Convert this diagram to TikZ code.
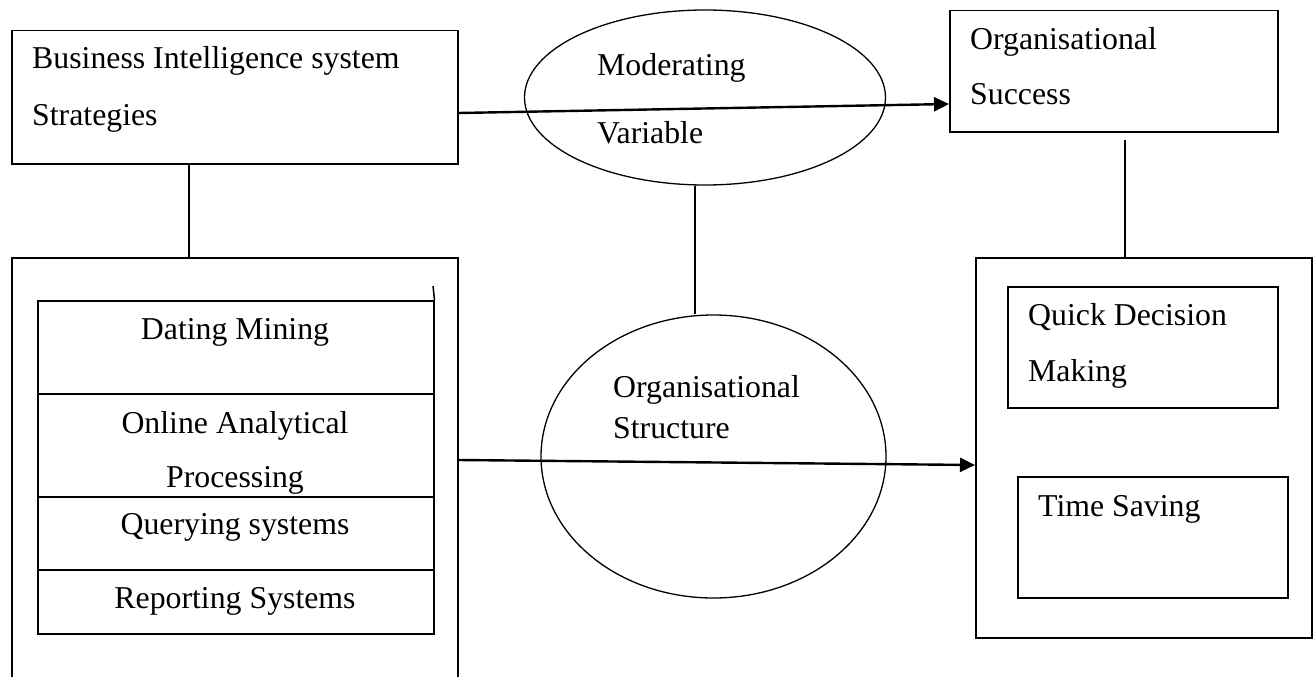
\documentclass[tikz,border=0pt]{standalone}
\usepackage{fontspec}
\setmainfont{Liberation Serif}
\usetikzlibrary{shapes.geometric,arrows.meta}
\begin{document}
\begin{tikzpicture}[x=1pt,y=-1pt,
  box/.style={draw, line width=1.5pt, inner sep=0pt, anchor=north west},
  oval/.style={draw, ellipse, line width=1.3pt, inner sep=0pt},
  txt/.style={inner sep=0pt, anchor=base west, font=\fontsize{31.8}{38}\selectfont},
  ctxt/.style={txt, anchor=base},
  link/.style={line width=1.3pt},
  arr/.style={line width=2.4pt, -{Triangle[length=15pt,width=14pt]}}]
\clip (0,0) rectangle (1314,677);
\fill[white] (0,0) rectangle (1314,677);
% boxes
\node[box, minimum width=446pt, minimum height=133pt] (bi) at (11,30) {};
\node[box, minimum width=446pt, minimum height=440pt] (left) at (11,257) {};
\node[box, minimum width=396pt, minimum height=93pt] (dm) at (37,300) {};
\node[box, minimum width=396pt, minimum height=103pt] (olap) at (37,393) {};
\node[box, minimum width=396pt, minimum height=73pt] (qs) at (37,496) {};
\node[box, minimum width=396pt, minimum height=64pt] (rs) at (37,569) {};
\coordinate (stacktop) at (433,286);
\draw[line width=1.5pt] (dm.north east) -- (stacktop);
\node[box, minimum width=328pt, minimum height=121pt] (os) at (949,10) {};
\node[box, minimum width=336pt, minimum height=380pt] (right) at (975,257) {};
\node[box, minimum width=270pt, minimum height=121pt] (qd) at (1007,286) {};
\node[box, minimum width=270pt, minimum height=121pt] (ts) at (1017,476) {};
% ellipses
\node[oval, minimum width=361pt, minimum height=175pt] (mod) at (705,97.5) {};
\node[oval, minimum width=345pt, minimum height=283pt] (str) at (713.5,456.5) {};
% texts
\node[txt] (t1) at (32,69) {Business Intelligence system};
\node[txt] (t2) at (32,125) {Strategies};
\node[txt] (t3) at (597,75) {Moderating};
\node[txt] (t4) at (597,143) {Variable};
\node[txt] (t5) at (970,50) {Organisational};
\node[txt] (t6) at (970,104) {Success};
\node[ctxt] (t7) at (235,339) {Dating Mining};
\node[ctxt] (t8) at (235,433) {Online Analytical};
\node[ctxt] (t9) at (235,487) {Processing};
\node[ctxt] (t10) at (235,534) {Querying systems};
\node[ctxt] (t11) at (235,608) {Reporting Systems};
\node[txt] (t12) at (613,397) {Organisational};
\node[txt] (t13) at (613,438) {Structure};
\node[txt] (t14) at (1028,325) {Quick Decision};
\node[txt] (t15) at (1028,381) {Making};
\node[txt] (t16) at (1038,516) {Time Saving};
% connectors
\coordinate (cx1) at (189,0);
\coordinate (cx2) at (695,0);
\coordinate (cx3) at (1125,0);
\coordinate (ya) at (0,113);
\coordinate (yb) at (0,104);
\coordinate (yc) at (0,460);
\coordinate (yd) at (0,465);
\draw[link] (bi.south -| cx1) -- (left.north -| cx1);
\draw[link] (mod.south -| cx2) -- (str.north -| cx2);
\draw[link] ([yshift=-7pt]os.south -| cx3) -- (right.north -| cx3);
\draw[arr] (bi.east |- ya) -- (os.west |- yb);
\draw[arr] (left.east |- yc) -- (right.west |- yd);
\end{tikzpicture}
\end{document}
